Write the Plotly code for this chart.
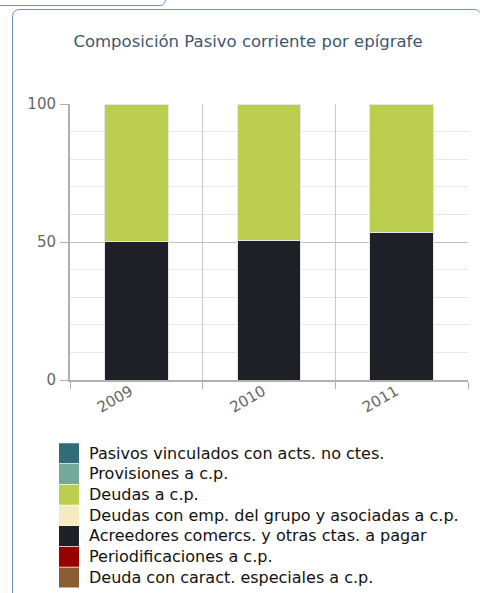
import plotly.graph_objects as go

years = ["2009", "2010", "2011"]

series_names = [
    "Pasivos vinculados con acts. no ctes.",
    "Provisiones a c.p.",
    "Deudas a c.p.",
    "Deudas con emp. del grupo y asociadas a c.p.",
    "Acreedores comercs. y otras ctas. a pagar",
    "Periodificaciones a c.p.",
    "Deuda con caract. especiales a c.p.",
]
series_colors = ["#2f6d79", "#72a99b", "#bbce50", "#f4ecc0", "#1e1f27", "#990000", "#8c5c33"]

pasivos_vinculados = [0, 0, 0]
provisiones = [0, 0, 0]
deudas = [49.9, 49.3, 46.6]
deudas_grupo = [0, 0, 0]
acreedores = [50.1, 50.7, 53.4]
periodificaciones = [0, 0, 0]
deuda_caract = [0, 0, 0]

series_values = [pasivos_vinculados, provisiones, deudas, deudas_grupo,
                 acreedores, periodificaciones, deuda_caract]

# stacking order, bottom first
stack_order = [4, 2, 0, 1, 3, 5, 6]

FONT = "DejaVu Sans"
W, H = 480, 593
L, R, T, B = 70, 12, 104, 213
PW, PH = W - L - R, H - T - B


def px2paper(x, y):
    return (x - L) / PW, (H - B - y) / PH


fig = go.Figure()

for i in stack_order:
    fig.add_trace(go.Bar(
        x=years, y=series_values[i], name=series_names[i],
        marker=dict(color=series_colors[i], line=dict(color="#e6e6e6", width=1)),
        width=0.48, showlegend=False, legendgroup=series_names[i],
    ))

# legend entries with big square swatches; the span keeps rows tight
for name, color in zip(series_names, series_colors):
    fig.add_trace(go.Scatter(
        x=[None], y=[None], mode="markers", legendgroup=name,
        name=f'<span style="font-size:16px">{name}</span>',
        marker=dict(symbol="square", size=15, color=color, line=dict(color=color, width=5)),
    ))

# container border and the tab above it
x0, y0 = px2paper(12.5, 9.5)
x1, _ = px2paper(474, 9.5)
xc, yc = px2paper(20, 17)
_, yb = px2paper(0, 600)
xe, ye = px2paper(481, 14)
frame_path = (f"M{x0},{yb} L{x0},{yc} Q{x0},{y0} {xc},{y0} "
              f"L{x1},{y0} Q{px2paper(479, 9.5)[0]},{y0} {xe},{ye}")
tx0, ty0 = px2paper(-2, 5.5)
tx1, _ = px2paper(160, 5.5)
tx2, ty2 = px2paper(165.5, -2)
tab_path = f"M{tx0},{ty0} L{tx1},{ty0} Q{tx2},{ty0} {tx2},{ty2}"

fig.update_layout(
    width=W, height=H,
    margin=dict(l=L, r=R, t=T, b=B, autoexpand=False),
    paper_bgcolor="white", plot_bgcolor="white",
    font=dict(family=FONT, color="#666666"),
    barmode="stack",
    title=dict(
        text="Composición Pasivo corriente por epígrafe",
        x=248 / W, xref="container", xanchor="center",
        y=1 - 41 / H, yref="container", yanchor="middle",
        font=dict(family=FONT, size=16.5, color="#3e576f"),
    ),
    showlegend=True,
    legend=dict(
        x=px2paper(49, 0)[0], xanchor="left",
        y=px2paper(0, 438)[1], yanchor="top",
        font=dict(family=FONT, size=13.6, color="#111111"),
        bgcolor="rgba(0,0,0,0)", tracegroupgap=0, itemclick=False,
    ),
    shapes=[
        dict(type="path", path=frame_path, xref="paper", yref="paper",
             line=dict(color="#7092c4", width=1), layer="below"),
        dict(type="path", path=tab_path, xref="paper", yref="paper",
             line=dict(color="#7092c4", width=1), layer="below"),
    ],
)

fig.update_xaxes(
    type="category", tickson="boundaries",
    showgrid=True, gridcolor="#c8c8c8", gridwidth=1,
    showline=True, linecolor="#b0b0b0", linewidth=2,
    ticks="outside", ticklen=7, tickcolor="#b0b0b0",
    tickangle=-30, tickfont=dict(family=FONT, size=15, color="#666666"),
    ticklabelstandoff=-5, ticklabelshift=-6,
    zeroline=False, fixedrange=True,
)
fig.update_yaxes(
    range=[0, 100], tickvals=[0, 50, 100],
    showgrid=True, gridcolor="#c0c0c0", gridwidth=1,
    minor=dict(dtick=10, showgrid=True, gridcolor="#e6e6e6", gridwidth=1),
    showline=True, linecolor="#b0b0b0", linewidth=2,
    ticks="outside", ticklen=8, tickcolor="#b0b0b0",
    tickfont=dict(family=FONT, size=15, color="#666666"),
    ticklabelstandoff=1,
    zeroline=False, fixedrange=True,
)

# drop the default body margin so the figure sits at the window origin
fig.write_html(
    "out.html",
    config={"displayModeBar": False},
    post_script="document.body.style.margin='0';document.body.style.overflow='hidden';",
)
